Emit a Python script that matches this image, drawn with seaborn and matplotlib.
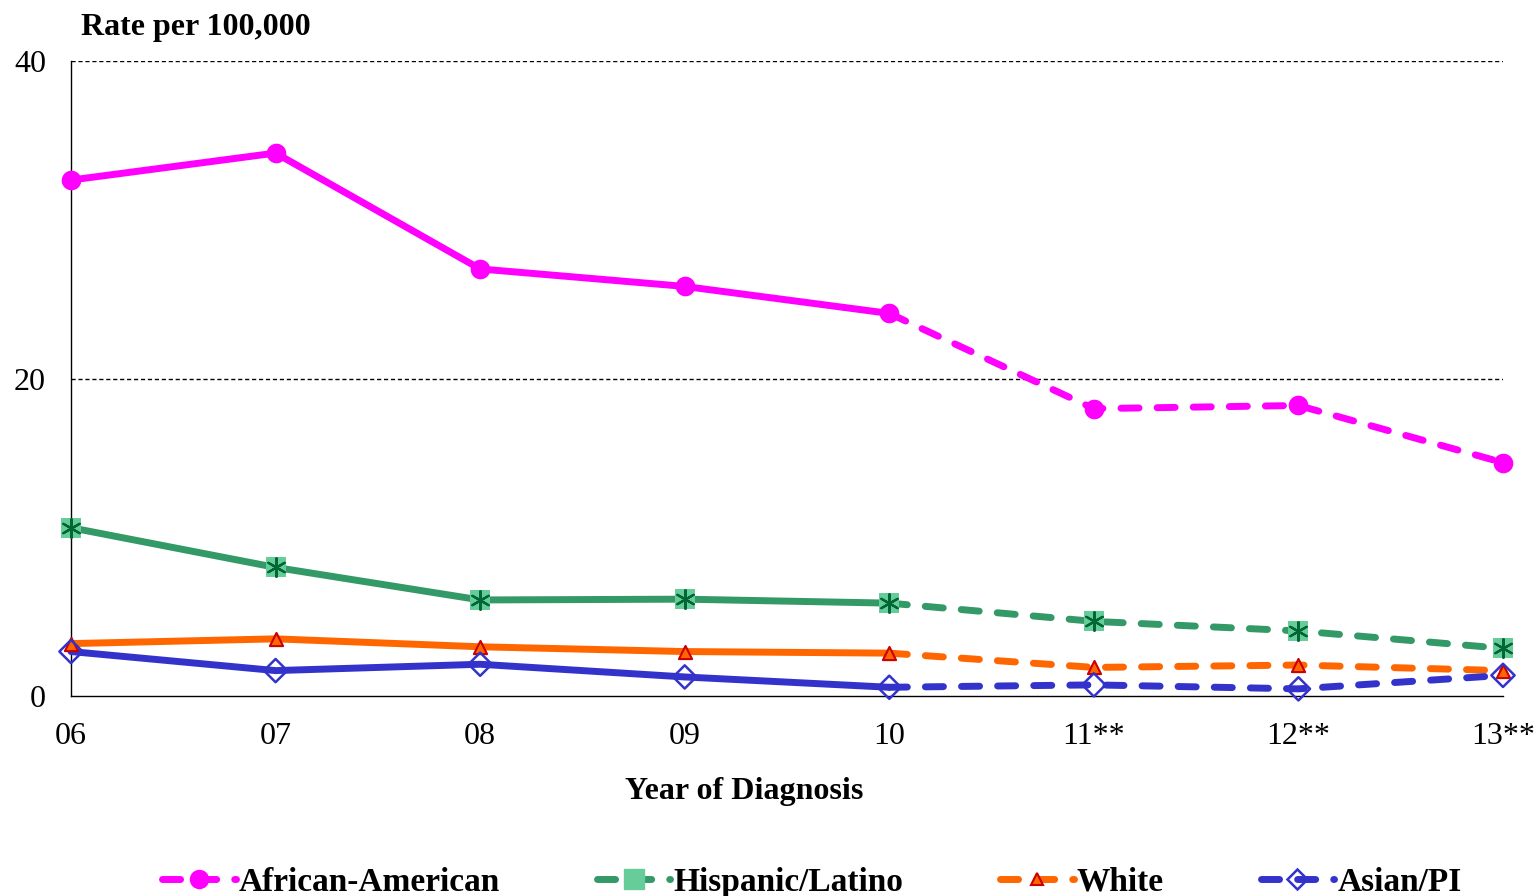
import pandas as pd
import seaborn as sns
import matplotlib.pyplot as plt
from matplotlib.lines import Line2D

# valori
years = ['06', '07', '08', '09', '10', '11**', '12**', '13**']
african_american = [32.5, 34.2, 26.9, 25.8, 24.1, 18.1, 18.3, 14.7]
hispanic_latino = [10.6, 8.1, 6.05, 6.1, 5.85, 4.7, 4.1, 3.0]
white = [3.3, 3.6, 3.1, 2.8, 2.7, 1.8, 1.95, 1.6]
asian_pi = [2.8, 1.6, 2.0, 1.2, 0.55, 0.7, 0.45, 1.3]
groups = ['African-American', 'Hispanic/Latino', 'White', 'Asian/PI']
values = [african_american, hispanic_latino, white, asian_pi]
colors = ['#FF00FF', '#339966', '#FF6600', '#3333CC']

rows = []
for g, vals in zip(groups, values):
    for i, v in enumerate(vals):
        rows.append({'group': g, 'x': i, 'rate': v})
df = pd.DataFrame(rows)

sns.set_style('white')
plt.rcParams['font.family'] = ['Liberation Serif', 'DejaVu Serif']
plt.rcParams['text.color'] = 'black'
plt.rcParams['axes.labelcolor'] = 'black'
plt.rcParams['xtick.color'] = 'black'
plt.rcParams['ytick.color'] = 'black'

fig = plt.figure(figsize=(15.39, 8.96), dpi=100)
ax = fig.add_axes([71 / 1539, 1 - 696 / 896, (1503 - 71) / 1539, (696 - 61) / 896])

lw = 5
dash = (0, (2.6, 2.6))
for g, c in zip(groups, colors):
    sub = df[df['group'] == g]
    solid = sub[sub['x'] <= 4]
    dashed = sub[sub['x'] >= 4]
    sns.lineplot(data=solid, x='x', y='rate', color=c, lw=lw, ax=ax,
                 solid_capstyle='round', zorder=3, clip_on=False)
    sns.lineplot(data=dashed, x='x', y='rate', color=c, lw=lw, ax=ax,
                 linestyle=dash, dash_capstyle='round', zorder=3, clip_on=False)

# marcatori
aa = df[df['group'] == 'African-American']
sns.scatterplot(data=aa, x='x', y='rate', color='#FF00FF', marker='o', s=200,
                linewidth=0, ax=ax, zorder=5, clip_on=False)
hl = df[df['group'] == 'Hispanic/Latino']
sns.scatterplot(data=hl, x='x', y='rate', color='#66CC99', marker='s', s=210,
                linewidth=0, ax=ax, zorder=5, clip_on=False)
sns.scatterplot(data=hl, x='x', y='rate', color='#006633', marker=(6, 2, 0), s=180,
                linewidth=1.6, edgecolor='#006633', ax=ax, zorder=6, clip_on=False)
wh = df[df['group'] == 'White']
sns.scatterplot(data=wh, x='x', y='rate', color='#FF6600', marker='^', s=90,
                linewidth=1.5, edgecolor='#CC0000', ax=ax, zorder=5, clip_on=False)
ap = df[df['group'] == 'Asian/PI']
sns.scatterplot(data=ap, x='x', y='rate', color='none', marker='D', s=140,
                linewidth=1.8, edgecolor='#3333CC', ax=ax, zorder=6, clip_on=False)

ax.set_xlim(0, 7)
ax.set_ylim(0, 40)
ax.set_yticks([0, 20, 40])
ax.set_xticks(range(len(years)))
ax.set_xticklabels(years)
ax.tick_params(axis='both', labelsize=23, direction='out', length=6, width=1)
ax.tick_params(axis='x', colors='#888888', labelcolor='black', pad=13)
ax.tick_params(axis='y', pad=12)
for yv in [20, 40]:
    ax.axhline(yv, color='black', lw=1, ls=(0, (3, 2)), zorder=1)
for s in ['top', 'right']:
    ax.spines[s].set_visible(False)
for s in ['left', 'bottom']:
    ax.spines[s].set_color('black')
    ax.spines[s].set_linewidth(1)
ax.set_xlabel('Year of Diagnosis', fontsize=23, fontweight='bold')
ax.xaxis.set_label_coords((744 - 71) / 1432, -(791 - 696) / 635, transform=ax.transAxes)
ax.xaxis.label.set_va('center')
ax.set_ylabel('')
fig.text(81 / 1539, 1 - 28 / 896, 'Rate per 100,000', fontsize=23,
         fontweight='bold', va='center', ha='left')

handles = [
    Line2D([], [], color='#FF00FF', lw=lw, ls=dash, dash_capstyle='round',
           marker='o', ms=14, mew=0),
    Line2D([], [], color='#339966', lw=lw, ls=dash, dash_capstyle='round',
           marker='s', ms=14, mfc='#66CC99', mec='#66CC99'),
    Line2D([], [], color='#FF6600', lw=lw, ls=dash, dash_capstyle='round',
           marker='^', ms=9, mfc='#FF6600', mec='#CC0000', mew=1.5),
    Line2D([], [], color='#3333CC', lw=lw, ls=dash, dash_capstyle='round',
           marker='D', ms=10, mfc='none', mec='#3333CC', mew=1.8),
]
fig.legend(handles, groups, loc='center', bbox_to_anchor=(812 / 1539, 1 - 882 / 896),
           ncol=4, frameon=False, prop={'size': 24, 'weight': 'bold'},
           handlelength=2.2, handletextpad=0.1, columnspacing=2.9,
           borderpad=0, borderaxespad=0)

fig.savefig('out.png', dpi=100)
